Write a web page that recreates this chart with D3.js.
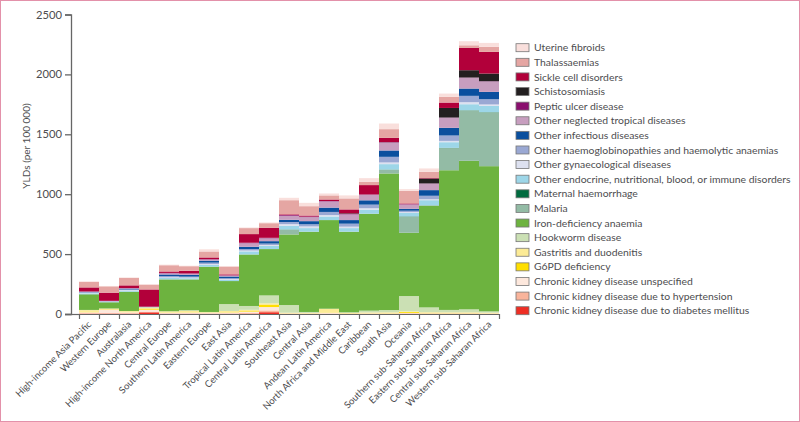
<!DOCTYPE html>
<html>
<head>
<meta charset="utf-8">
<script src="https://cdn.jsdelivr.net/npm/d3@7"></script>
<style>
  html, body { margin: 0; padding: 0; background: #fff; }
  text { font-family: Lato, "Open Sans", sans-serif; fill: #4d4d4f; }
</style>
</head>
<body>
<svg id="chart" width="800" height="422"></svg>
<script>
const regions = ["High-income Asia Pacific", "Western Europe", "Australasia", "High-income North America",
  "Central Europe", "Southern Latin America", "Eastern Europe", "East Asia", "Tropical Latin America",
  "Central Latin America", "Southeast Asia", "Central Asia", "Andean Latin America",
  "North Africa and Middle East", "Caribbean", "South Asia", "Oceania", "Southern sub-Saharan Africa",
  "Eastern sub-Saharan Africa", "Central sub-Saharan Africa", "Western sub-Saharan Africa"];

const yTicks = [0, 500, 1000, 1500, 2000, 2500];

// one list per cause, same order as regions
const diabetes = [3,3,3,14,2,2,2,2,3,15,1,1,1,1,1,1,2,1,1,1,1];
const hypertension = [4,5,4,6,3,3,2,3,5,15,1,1,2,1,1,1,2,2,2,2,1];
const ckdUnspecified = [8,25,8,15,5,5,4,6,12,28,2,2,5,2,2,2,4,3,3,3,2];
const g6pd = [5,0,1,6,2,2,1,3,5,17,1,1,2,2,1,2,8,2,2,2,1];
const gastritis = [12,12,8,12,10,15,6,11,10,14,6,4,32,4,8,8,6,7,6,6,6];
const hookworm = [2,1,1,1,1,4,2,58,32,66,64,8,2,4,15,19,128,40,20,25,11];
const iron = [130,52,161,2,266,258,378,192,430,387,589,670,740,673,809,1140,528,848,1166,1240,1212];
const malaria = [0,0,0,0,0,0,0,0,0,0,40,0,0,0,0,31,134,4,185,420,449];
const maternal = [1,0,0,0,0,0,0,0,0,0,2,0,0,0,0,2,3,1,2,2,2];
const endocrine = [8,3,9,1,12,10,14,10,26,26,30,30,30,30,34,45,28,42,47,50,52];
const gynaecological = [4,2,4,1,5,5,8,6,7,8,14,14,12,12,12,14,8,8,11,17,12];
const haemoglobin = [5,3,6,1,10,8,12,8,12,12,18,18,26,25,30,47,11,29,45,53,44];
const infectious = [3,1,6,1,14,14,16,14,19,20,18,26,36,30,36,53,16,47,64,61,61];
const tropical = [2,2,4,1,10,10,10,8,30,24,34,34,52,48,46,66,36,54,84,90,87];
const peptic = [1,1,2,0,3,3,3,2,4,4,6,5,3,3,3,3,3,2,2,2,2];
const schisto = [0,0,0,0,0,0,0,0,0,0,0,0,0,5,0,1,0,41,80,61,64];
const sickle = [34,68,22,144,12,22,14,8,72,84,6,8,13,33,78,35,6,4,45,186,181];
const thalassaemia = [46,53,62,40,52,38,50,65,50,38,118,78,34,92,28,73,105,52,47,22,42];
const fibroids = [4,3,4,3,5,4,18,4,5,6,20,28,16,25,30,47,14,28,28,34,33];

// bottom of the stack first
const causes = ["Chronic kidney disease due to diabetes mellitus", "Chronic kidney disease due to hypertension",
  "Chronic kidney disease unspecified", "G6PD deficiency", "Gastritis and duodenitis", "Hookworm disease",
  "Iron-deficiency anaemia", "Malaria", "Maternal haemorrhage",
  "Other endocrine, nutritional, blood, or immune disorders", "Other gynaecological diseases",
  "Other haemoglobinopathies and haemolytic anaemias", "Other infectious diseases",
  "Other neglected tropical diseases", "Peptic ulcer disease", "Schistosomiasis", "Sickle cell disorders",
  "Thalassaemias", "Uterine fibroids"];
const causeValues = [diabetes, hypertension, ckdUnspecified, g6pd, gastritis, hookworm, iron, malaria, maternal,
  endocrine, gynaecological, haemoglobin, infectious, tropical, peptic, schisto, sickle, thalassaemia, fibroids];
const colors = ["#ee2e24", "#f9b49b", "#fde8dd", "#ffdf00", "#fceb96", "#cbe0b4", "#6db33f", "#93bba5", "#006b3f",
  "#9dd6e8", "#dde1f0", "#9aa8d3", "#0a4f9e", "#c79ebf", "#8a0f6e", "#231f20", "#b2003a", "#e5a6a3", "#f9dfdc"];

const svg = d3.select("#chart");

svg.append("rect").attr("x", 0.5).attr("y", 0.5).attr("width", 799).attr("height", 421)
  .attr("fill", "none").attr("stroke", "#e391aa");

const x = d3.scaleBand().domain(regions).range([79, 499]);
const xEdges = d3.scaleLinear().domain([0, regions.length]).range([79, 499]);
const y = d3.scaleLinear().domain([0, 2500]).range([314, 14.5]);
const color = d3.scaleOrdinal(causes, colors);

const rows = regions.map((r, i) => {
  const row = {region: r};
  causes.forEach((c, j) => { row[c] = causeValues[j][i]; });
  return row;
});
const series = d3.stack().keys(causes)(rows);

svg.append("g").selectAll("g").data(series).join("g")
  .attr("fill", d => color(d.key))
  .selectAll("rect").data(d => d).join("rect")
  .attr("x", d => x(d.data.region))
  .attr("width", x.bandwidth())
  .attr("y", d => y(d[1]))
  .attr("height", d => y(d[0]) - y(d[1]));

// y axis
const yAxis = svg.append("g").attr("transform", "translate(71,0)")
  .call(d3.axisLeft(y).tickValues(yTicks).tickSize(6).tickPadding(3).tickFormat(d3.format("d")));
yAxis.selectAll("path,line").attr("stroke", "#666").attr("stroke-width", 1.3);
yAxis.selectAll("text").attr("font-size", 11.2).style("font-family", "Lato");

// x axis: ticks sit on the bar edges, labels on the bar centres
const xTickAxis = svg.append("g").attr("transform", "translate(0,314)")
  .call(d3.axisBottom(xEdges).tickValues(d3.range(regions.length + 1)).tickSize(5).tickSizeOuter(0).tickFormat(""));
xTickAxis.selectAll("path,line").attr("stroke", "#666").attr("stroke-width", 1.2);
svg.append("line").attr("x1", 65).attr("x2", 79).attr("y1", 314.5).attr("y2", 314.5)
  .attr("stroke", "#666").attr("stroke-width", 1.2);

svg.append("g").selectAll("text").data(regions).join("text")
  .attr("transform", d => `translate(${x(d) + x.bandwidth() / 2 + 3},325) rotate(-45)`)
  .attr("text-anchor", "end")
  .attr("font-size", 9.5)
  .text(d => d);

svg.append("text")
  .attr("transform", "translate(30,146) rotate(-90)")
  .attr("text-anchor", "middle")
  .attr("font-size", 10)
  .text("YLDs (per 100 000)");

// legend, top entry is the top of the stack
const legendY = d3.scalePoint().domain(causes.slice().reverse()).range([47.7, 310.7]);
const legend = svg.append("g").selectAll("g").data(causes).join("g")
  .attr("transform", d => `translate(516,${legendY(d)})`);
legend.append("rect")
  .attr("x", 0).attr("y", -4).attr("width", 13).attr("height", 8)
  .attr("fill", d => color(d))
  .attr("stroke", "#777").attr("stroke-width", 0.8);
legend.append("text")
  .attr("x", 18).attr("y", 3.6)
  .attr("font-size", 10.4)
  .text(d => d);
</script>
</body>
</html>
